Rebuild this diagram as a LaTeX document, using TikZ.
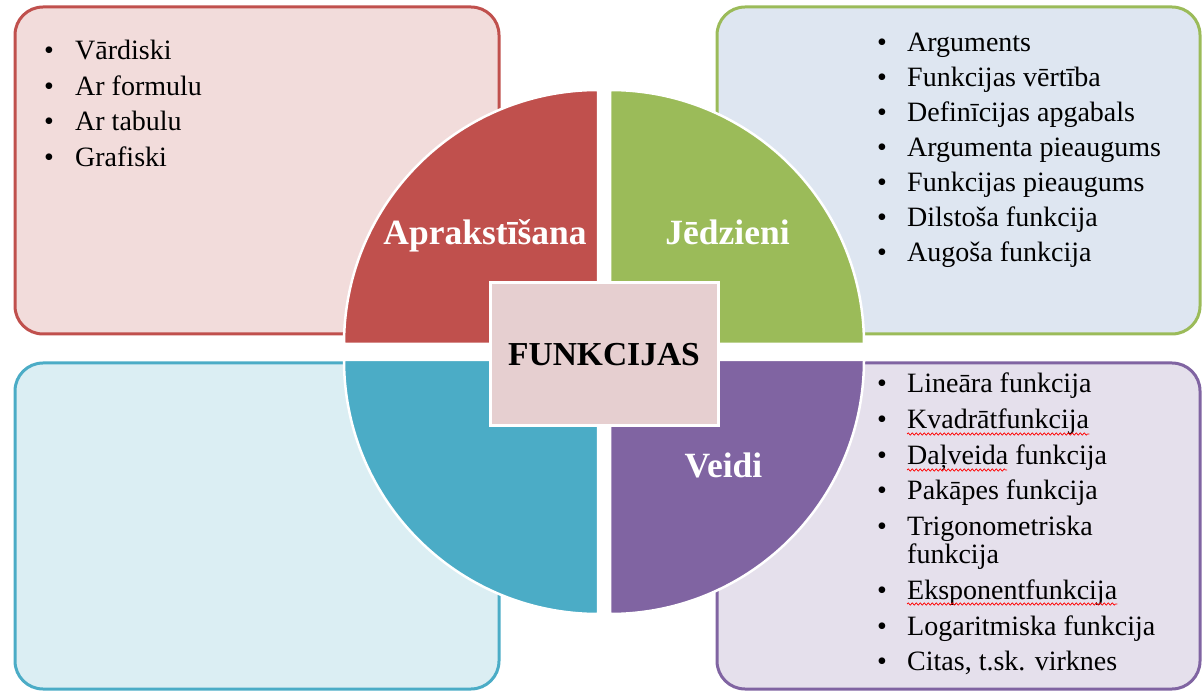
\documentclass[tikz,border=0pt]{standalone}
\usepackage{fontspec}
\setmainfont{Liberation Serif}
\usetikzlibrary{calc}
\usetikzlibrary{decorations.pathmorphing}
\definecolor{redq}{HTML}{C0504D}
\definecolor{greenq}{HTML}{9BBB59}
\definecolor{blueq}{HTML}{4BACC6}
\definecolor{purpleq}{HTML}{8064A2}
\definecolor{redbox}{HTML}{F2DCDB}
\definecolor{greenbox}{HTML}{DEE6F1}
\definecolor{bluebox}{HTML}{DBEEF3}
\definecolor{purplebox}{HTML}{E5E0EC}
\definecolor{centrebox}{HTML}{E6CFD0}
\tikzset{
  listbox/.style={line width=3pt,rounded corners=28pt},
  quarter/.style={draw=white,line width=2.5pt},
  centre/.style={fill=centrebox,draw=white,line width=3pt,minimum width=228pt,
                 minimum height=143pt,font=\fontsize{33.5}{40}\selectfont\bfseries},
  qlabel/.style={white,anchor=base,inner sep=0pt,font=\fontsize{35.5}{40}\selectfont\bfseries},
  item/.style={anchor=base west,inner sep=0pt,font=\fontsize{28}{28}\selectfont},
  dot/.style={anchor=base,inner sep=0pt,font=\fontsize{28}{28}\selectfont},
  squiggle/.style={red,line width=0.7pt,decorate,
                   decoration={snake,amplitude=1.1pt,segment length=4pt}}
}

\begin{document}
\begin{tikzpicture}[x=1pt,y=1pt]
  \def\H{691}
  \def\r{254} % radius of the quarters
  \def\gx{6}
  \def\gy{8}
  \def\bx{49} % bullets
  \def\tx{75} % text
  \useasboundingbox (0,0) rectangle (1204,\H);
  \coordinate (C) at (604,339);

  % BOXES
  \filldraw[listbox,draw=redq,fill=redbox] (15,357) rectangle (499,684);
  \filldraw[listbox,draw=greenq,fill=greenbox] (717,357) rectangle (1200,684);
  \filldraw[listbox,draw=blueq,fill=bluebox] (15,2) rectangle (499,328);
  \filldraw[listbox,draw=purpleq,fill=purplebox] (717,2) rectangle (1200,328);

  % QUARTERS
  \filldraw[quarter,fill=redq] ($(C)+(-\gx,\gy)$) -- ++(-\r,0) arc (180:90:\r) -- cycle;
  \filldraw[quarter,fill=greenq] ($(C)+(\gx,\gy)$) -- ++(0,\r) arc (90:0:\r) -- cycle;
  \filldraw[quarter,fill=blueq] ($(C)+(-\gx,-\gy)$) -- ++(0,-\r) arc (270:180:\r) -- cycle;
  \filldraw[quarter,fill=purpleq] ($(C)+(\gx,-\gy)$) -- ++(\r,0) arc (0:-90:\r) -- cycle;

  % LABELS
  \node[centre] (funk) at (604,336.5) {FUNKCIJAS};
  \node[qlabel] (apr) at (485,446) {Aprakstīšana};
  \node[qlabel] (jed) at (727.5,446) {Jēdzieni};
  \node[qlabel] (veidi) at (723.5,213) {Veidi};

  % LISTS
  \foreach \txt [count=\i from 0] in {Vārdiski,Ar formulu,Ar tabulu,Grafiski}{
    \node[dot] (rd\i) at (\bx,631-35.5*\i) {•};
    \node[item] (ra\i) at (\tx,631-35.5*\i) {\txt};
  }
  \foreach \txt [count=\i from 0] in {Arguments,Funkcijas vērtība,Definīcijas apgabals,
      Argumenta pieaugums,Funkcijas pieaugums,Dilstoša funkcija,Augoša funkcija}{
    \node[dot] (gd\i) at (\bx+833,639-35*\i) {•};
    \node[item] (ga\i) at (\tx+832,639-35*\i) {\txt};
  }
  \foreach \yy/\txt [count=\i from 0] in {298/Lineāra funkcija,262/Kvadrātfunkcija,
      226/Daļveida funkcija,191/Pakāpes funkcija,
      156/{\vtop{\hbox{Trigonometriska}\hbox{funkcija}}},
      92/Eksponentfunkcija,56/Logaritmiska funkcija,21/{Citas, t.sk. virknes}}{
    \node[dot] (pd\i) at (\bx+833,\yy) {•};
    \node[item] (pa\i) at (\tx+832,\yy) {\txt};
  }
  % spell check marks
  \draw[squiggle] ($(pa1.base west)+(0,-5)$) -- ($(pa1.base east)+(0,-5)$);
  \draw[squiggle] ($(pa2.base west)+(0,-5)$) -- ++(100,0);
  \draw[squiggle] ($(pa5.base west)+(0,-5)$) -- ($(pa5.base east)+(0,-5)$);
\end{tikzpicture}
\end{document}
